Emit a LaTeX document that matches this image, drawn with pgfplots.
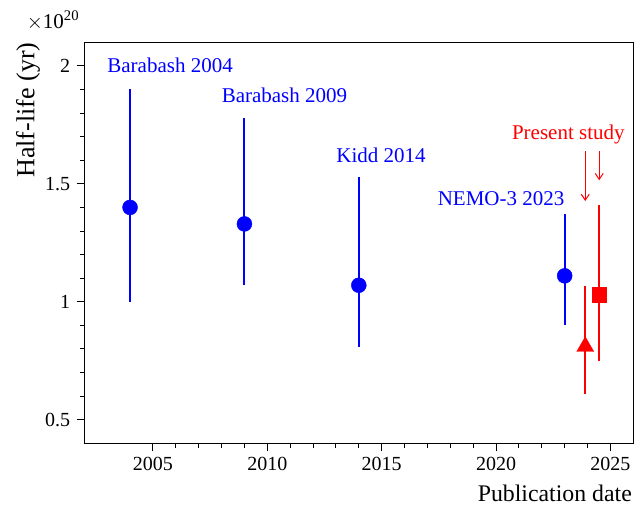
\documentclass[border=0pt]{standalone}
\usepackage{pgfplots}
\pgfplotsset{compat=1.18}
\usepackage{fontspec}
\setmainfont{Liberation Serif}
\usetikzlibrary{arrows.meta}
\begin{document}
\begin{tikzpicture}
\path[use as bounding box] (-84.3bp,-61.7bp) rectangle (555.7bp,443.3bp);
\begin{axis}[
  at={(0,0)}, anchor=south west,
  scale only axis, width=549bp, height=401bp,
  xmin=2002, xmax=2026, ymin=0.4, ymax=2.1,
  xtick={2005,2010,2015,2020,2025}, minor x tick num=4,
  xticklabels={\mbox{2005},\mbox{2010},\mbox{2015},\mbox{2020},\mbox{2025}},
  ytick={0.5,1,1.5,2}, minor y tick num=4,
  yticklabels={\mbox{0.5},\mbox{1},\mbox{1.5},\mbox{2}},
  tick align=outside, xtick pos=left, ytick pos=left,
  major tick length=7.7bp, minor tick length=4.3bp,
  axis line style={line width=1.2bp},
  every tick/.style={line width=1bp, black},
  tick label style={font=\fontsize{20bp}{24bp}\selectfont},
  xticklabel style={yshift=-3bp},
  yticklabel style={xshift=-3bp},
]
\addplot[only marks, mark=*, blue, mark size=7.5bp,
  mark options={fill=blue, draw=blue},
  error bars/.cd, y dir=both, y explicit, error mark=none,
  error bar style={line width=2bp, blue}]
  table[x=x, y=y, y error plus=ep, y error minus=em] {
x y ep em
2004 1.40 0.50 0.40
2009 1.33 0.45 0.26
2014 1.07 0.46 0.26
2023 1.11 0.26 0.21
};
\addplot[only marks, mark=triangle*, red, mark size=9.8bp,
  mark options={fill=red, draw=red},
  error bars/.cd, y dir=both, y explicit, error mark=none,
  error bar style={line width=2bp, red}]
  table[x=x, y=y, y error plus=ep, y error minus=em] {
x y ep em
2023.9 0.81 0.258 0.20
};
\addplot[only marks, mark=square*, red, mark size=7.3bp,
  mark options={fill=red, draw=red},
  error bars/.cd, y dir=both, y explicit, error mark=none,
  error bar style={line width=2bp, red}]
  table[x=x, y=y, y error plus=ep, y error minus=em] {
x y ep em
2024.51 1.03 0.38 0.283
};
\node[blue, anchor=base, font=\fontsize{21bp}{25bp}\selectfont] at (axis cs:2005.75,1.972) {Barabash 2004};
\node[blue, anchor=base, font=\fontsize{21bp}{25bp}\selectfont] at (axis cs:2010.75,1.846) {Barabash 2009};
\node[blue, anchor=base, font=\fontsize{21bp}{25bp}\selectfont] at (axis cs:2014.97,1.592) {Kidd 2014};
\node[blue, anchor=base, font=\fontsize{21bp}{25bp}\selectfont] at (axis cs:2020.22,1.41) {NEMO-3 2023};
\node[red, anchor=base, font=\fontsize{21bp}{25bp}\selectfont] at (axis cs:2023.16,1.687) {Present study};
\draw[red, line width=1bp, -{Straight Barb[length=6bp, width=8bp]}] (axis cs:2023.9,1.64) -- (axis cs:2023.9,1.427);
\draw[red, line width=1bp, -{Straight Barb[length=6bp, width=8bp]}] (axis cs:2024.51,1.64) -- (axis cs:2024.51,1.515);
\end{axis}
\node[anchor=base west, font=\fontsize{21bp}{25bp}\selectfont, inner sep=0pt] at (-57.6bp,415bp) {$\times$10\textsuperscript{20}};
\node[rotate=90, anchor=base east, inner sep=0pt, font=\fontsize{26bp}{30bp}\selectfont] at (-50bp,400.8bp) {Half-life (yr)};
\node[anchor=base east, inner sep=0pt, font=\fontsize{23.8bp}{28bp}\selectfont] at (547.7bp,-57.7bp) {Publication date};
\end{tikzpicture}
\end{document}
